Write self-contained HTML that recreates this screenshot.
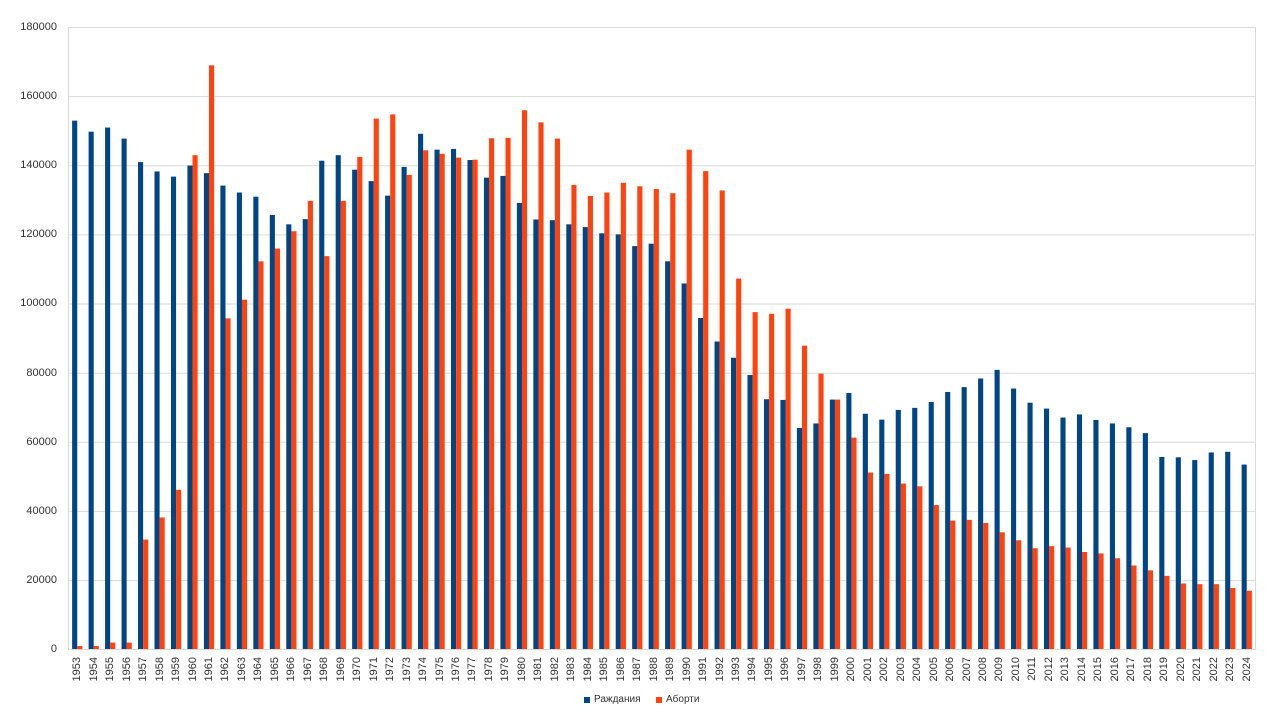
<!DOCTYPE html>
<html><head><meta charset="utf-8"><style>
body{margin:0;width:1280px;height:720px;background:#fff;font-family:"Liberation Sans",sans-serif;position:relative;overflow:hidden}
.yl{position:absolute;right:1223px;font-size:11px;color:#333;line-height:12px}
#xl{position:absolute;left:69px;top:657px;width:1186px;height:30px;display:flex}
#xl div{flex:1;display:flex;justify-content:center;align-items:flex-start}
#xl span{writing-mode:vertical-rl;transform:rotate(180deg);font-size:11px;color:#333;line-height:12px}
.lg{position:absolute;top:694px;font-size:10px;color:#333}
.sq{position:absolute;top:697px;width:6px;height:6px}
</style></head><body>
<svg width="1280" height="720" style="position:absolute;left:0;top:0">
<g stroke="#d9d9d9" stroke-width="1">
<line x1="69" x2="1255" y1="27.5" y2="27.5"/><line x1="69" x2="1255" y1="96.6" y2="96.6"/><line x1="69" x2="1255" y1="165.8" y2="165.8"/><line x1="69" x2="1255" y1="234.9" y2="234.9"/><line x1="69" x2="1255" y1="304.0" y2="304.0"/><line x1="69" x2="1255" y1="373.2" y2="373.2"/><line x1="69" x2="1255" y1="442.3" y2="442.3"/><line x1="69" x2="1255" y1="511.4" y2="511.4"/><line x1="69" x2="1255" y1="580.6" y2="580.6"/>
<line x1="68.5" x2="68.5" y1="27" y2="650"/><line x1="1255.5" x2="1255.5" y1="27" y2="650"/>
</g>
<g transform="translate(69,649.5) scale(16.472,-0.0034567)">
<g fill="#004586">
<rect x="0.19" width="0.31" height="153000"/><rect x="1.19" width="0.31" height="149800"/><rect x="2.19" width="0.31" height="151000"/><rect x="3.19" width="0.31" height="147800"/><rect x="4.19" width="0.31" height="141000"/><rect x="5.19" width="0.31" height="138300"/><rect x="6.19" width="0.31" height="136800"/><rect x="7.19" width="0.31" height="140000"/><rect x="8.19" width="0.31" height="137800"/><rect x="9.19" width="0.31" height="134200"/><rect x="10.19" width="0.31" height="132200"/><rect x="11.19" width="0.31" height="131000"/><rect x="12.19" width="0.31" height="125700"/><rect x="13.19" width="0.31" height="123000"/><rect x="14.19" width="0.31" height="124500"/><rect x="15.19" width="0.31" height="141400"/><rect x="16.19" width="0.31" height="143000"/><rect x="17.19" width="0.31" height="138800"/><rect x="18.19" width="0.31" height="135500"/><rect x="19.19" width="0.31" height="131300"/><rect x="20.19" width="0.31" height="139600"/><rect x="21.19" width="0.31" height="149200"/><rect x="22.19" width="0.31" height="144600"/><rect x="23.19" width="0.31" height="144800"/><rect x="24.19" width="0.31" height="141600"/><rect x="25.19" width="0.31" height="136500"/><rect x="26.19" width="0.31" height="137000"/><rect x="27.19" width="0.31" height="129200"/><rect x="28.19" width="0.31" height="124400"/><rect x="29.19" width="0.31" height="124200"/><rect x="30.19" width="0.31" height="123000"/><rect x="31.19" width="0.31" height="122200"/><rect x="32.19" width="0.31" height="120400"/><rect x="33.19" width="0.31" height="120100"/><rect x="34.19" width="0.31" height="116700"/><rect x="35.19" width="0.31" height="117400"/><rect x="36.19" width="0.31" height="112300"/><rect x="37.19" width="0.31" height="105900"/><rect x="38.19" width="0.31" height="95900"/><rect x="39.19" width="0.31" height="89100"/><rect x="40.19" width="0.31" height="84400"/><rect x="41.19" width="0.31" height="79400"/><rect x="42.19" width="0.31" height="72400"/><rect x="43.19" width="0.31" height="72200"/><rect x="44.19" width="0.31" height="64100"/><rect x="45.19" width="0.31" height="65400"/><rect x="46.19" width="0.31" height="72300"/><rect x="47.19" width="0.31" height="74200"/><rect x="48.19" width="0.31" height="68200"/><rect x="49.19" width="0.31" height="66500"/><rect x="50.19" width="0.31" height="69300"/><rect x="51.19" width="0.31" height="69900"/><rect x="52.19" width="0.31" height="71600"/><rect x="53.19" width="0.31" height="74500"/><rect x="54.19" width="0.31" height="75900"/><rect x="55.19" width="0.31" height="78400"/><rect x="56.19" width="0.31" height="80900"/><rect x="57.19" width="0.31" height="75500"/><rect x="58.19" width="0.31" height="71400"/><rect x="59.19" width="0.31" height="69700"/><rect x="60.19" width="0.31" height="67100"/><rect x="61.19" width="0.31" height="68000"/><rect x="62.19" width="0.31" height="66400"/><rect x="63.19" width="0.31" height="65400"/><rect x="64.19" width="0.31" height="64300"/><rect x="65.19" width="0.31" height="62600"/><rect x="66.19" width="0.31" height="55700"/><rect x="67.19" width="0.31" height="55600"/><rect x="68.19" width="0.31" height="54800"/><rect x="69.19" width="0.31" height="57000"/><rect x="70.19" width="0.31" height="57200"/><rect x="71.19" width="0.31" height="53500"/>
</g>
<g fill="#ff420e">
<rect x="0.5" width="0.31" height="1000"/><rect x="1.5" width="0.31" height="1000"/><rect x="2.5" width="0.31" height="2000"/><rect x="3.5" width="0.31" height="2000"/><rect x="4.5" width="0.31" height="31800"/><rect x="5.5" width="0.31" height="38200"/><rect x="6.5" width="0.31" height="46200"/><rect x="7.5" width="0.31" height="143000"/><rect x="8.5" width="0.31" height="169000"/><rect x="9.5" width="0.31" height="95800"/><rect x="10.5" width="0.31" height="101200"/><rect x="11.5" width="0.31" height="112300"/><rect x="12.5" width="0.31" height="116000"/><rect x="13.5" width="0.31" height="121000"/><rect x="14.5" width="0.31" height="129800"/><rect x="15.5" width="0.31" height="113800"/><rect x="16.5" width="0.31" height="129800"/><rect x="17.5" width="0.31" height="142500"/><rect x="18.5" width="0.31" height="153600"/><rect x="19.5" width="0.31" height="154800"/><rect x="20.5" width="0.31" height="137300"/><rect x="21.5" width="0.31" height="144400"/><rect x="22.5" width="0.31" height="143400"/><rect x="23.5" width="0.31" height="142300"/><rect x="24.5" width="0.31" height="141700"/><rect x="25.5" width="0.31" height="147900"/><rect x="26.5" width="0.31" height="148000"/><rect x="27.5" width="0.31" height="156000"/><rect x="28.5" width="0.31" height="152500"/><rect x="29.5" width="0.31" height="147800"/><rect x="30.5" width="0.31" height="134400"/><rect x="31.5" width="0.31" height="131200"/><rect x="32.5" width="0.31" height="132200"/><rect x="33.5" width="0.31" height="135000"/><rect x="34.5" width="0.31" height="134000"/><rect x="35.5" width="0.31" height="133200"/><rect x="36.5" width="0.31" height="132000"/><rect x="37.5" width="0.31" height="144600"/><rect x="38.5" width="0.31" height="138400"/><rect x="39.5" width="0.31" height="132800"/><rect x="40.5" width="0.31" height="107300"/><rect x="41.5" width="0.31" height="97600"/><rect x="42.5" width="0.31" height="97100"/><rect x="43.5" width="0.31" height="98600"/><rect x="44.5" width="0.31" height="87900"/><rect x="45.5" width="0.31" height="79800"/><rect x="46.5" width="0.31" height="72300"/><rect x="47.5" width="0.31" height="61300"/><rect x="48.5" width="0.31" height="51200"/><rect x="49.5" width="0.31" height="50800"/><rect x="50.5" width="0.31" height="48000"/><rect x="51.5" width="0.31" height="47200"/><rect x="52.5" width="0.31" height="41800"/><rect x="53.5" width="0.31" height="37300"/><rect x="54.5" width="0.31" height="37500"/><rect x="55.5" width="0.31" height="36600"/><rect x="56.5" width="0.31" height="33900"/><rect x="57.5" width="0.31" height="31600"/><rect x="58.5" width="0.31" height="29300"/><rect x="59.5" width="0.31" height="29900"/><rect x="60.5" width="0.31" height="29500"/><rect x="61.5" width="0.31" height="28200"/><rect x="62.5" width="0.31" height="27800"/><rect x="63.5" width="0.31" height="26400"/><rect x="64.5" width="0.31" height="24300"/><rect x="65.5" width="0.31" height="22900"/><rect x="66.5" width="0.31" height="21300"/><rect x="67.5" width="0.31" height="19100"/><rect x="68.5" width="0.31" height="18900"/><rect x="69.5" width="0.31" height="18900"/><rect x="70.5" width="0.31" height="17800"/><rect x="71.5" width="0.31" height="17000"/>
</g>
</g>
<line x1="69" x2="1255" y1="649.5" y2="649.5" stroke="#d9d9d9"/>
</svg>
<div class="yl" style="top:21px">180000</div>
<div class="yl" style="top:90px">160000</div>
<div class="yl" style="top:159px">140000</div>
<div class="yl" style="top:228px">120000</div>
<div class="yl" style="top:297px">100000</div>
<div class="yl" style="top:367px">80000</div>
<div class="yl" style="top:436px">60000</div>
<div class="yl" style="top:505px">40000</div>
<div class="yl" style="top:574px">20000</div>
<div class="yl" style="top:643px">0</div>
<div id="xl">
<div><span>1953</span></div><div><span>1954</span></div><div><span>1955</span></div><div><span>1956</span></div><div><span>1957</span></div><div><span>1958</span></div><div><span>1959</span></div><div><span>1960</span></div><div><span>1961</span></div><div><span>1962</span></div><div><span>1963</span></div><div><span>1964</span></div><div><span>1965</span></div><div><span>1966</span></div><div><span>1967</span></div><div><span>1968</span></div><div><span>1969</span></div><div><span>1970</span></div><div><span>1971</span></div><div><span>1972</span></div><div><span>1973</span></div><div><span>1974</span></div><div><span>1975</span></div><div><span>1976</span></div><div><span>1977</span></div><div><span>1978</span></div><div><span>1979</span></div><div><span>1980</span></div><div><span>1981</span></div><div><span>1982</span></div><div><span>1983</span></div><div><span>1984</span></div><div><span>1985</span></div><div><span>1986</span></div><div><span>1987</span></div><div><span>1988</span></div><div><span>1989</span></div><div><span>1990</span></div><div><span>1991</span></div><div><span>1992</span></div><div><span>1993</span></div><div><span>1994</span></div><div><span>1995</span></div><div><span>1996</span></div><div><span>1997</span></div><div><span>1998</span></div><div><span>1999</span></div><div><span>2000</span></div><div><span>2001</span></div><div><span>2002</span></div><div><span>2003</span></div><div><span>2004</span></div><div><span>2005</span></div><div><span>2006</span></div><div><span>2007</span></div><div><span>2008</span></div><div><span>2009</span></div><div><span>2010</span></div><div><span>2011</span></div><div><span>2012</span></div><div><span>2013</span></div><div><span>2014</span></div><div><span>2015</span></div><div><span>2016</span></div><div><span>2017</span></div><div><span>2018</span></div><div><span>2019</span></div><div><span>2020</span></div><div><span>2021</span></div><div><span>2022</span></div><div><span>2023</span></div><div><span>2024</span></div>
</div>
<div class="sq" style="left:584px;background:#004586"></div>
<div class="lg" style="left:594px">Раждания</div>
<div class="sq" style="left:656px;background:#ff420e"></div>
<div class="lg" style="left:666px">Аборти</div>
</body></html>
